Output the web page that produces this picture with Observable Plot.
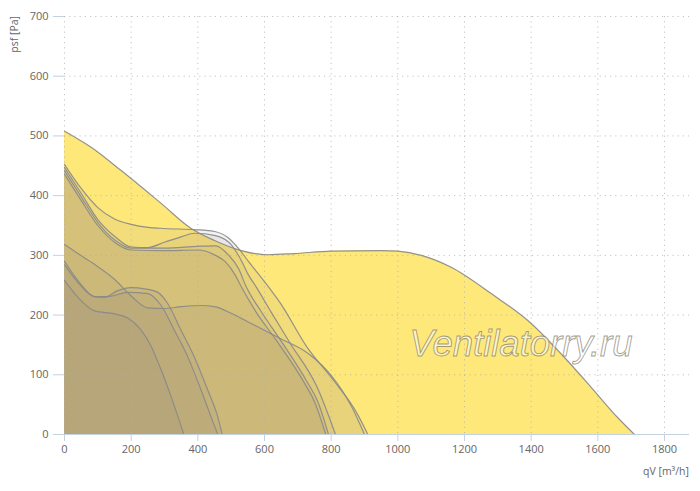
<!DOCTYPE html>
<html>
<head>
<meta charset="utf-8">
<script src="https://cdn.jsdelivr.net/npm/d3@7"></script>
<script src="https://cdn.jsdelivr.net/npm/@observablehq/plot@0.6"></script>
<style>
  html, body { margin: 0; padding: 0; background: #fff; }
  #wrap { position: relative; width: 700px; height: 491px; }
</style>
</head>
<body>
<div id="wrap"></div>
<script>
// ---- data (qV [m³/h], psf [Pa]) ----
const curveA = [[0,508],[80,481],[170,442],[290,387],[380,345],[450,325],[530,308],[610,301],[690,303],[800,307],[950,308],[1000,307],[1070,300],[1160,280],[1280,236],[1400,186],[1500,129],[1580,79],[1660,28],[1710,0]];
const curveB1 = [[0,452],[50,412],[100,380],[150,361],[200,352],[250,347],[300,345],[390,343],[450,340],[490,330],[523,311],[553,289],[593,261],[650,218],[728,146],[808,90],[878,35],[910,0]];
const curveB2 = [[0,447],[50,404],[100,360],[150,332],[200,314],[250,313],[300,322],[350,331],[390,337],[453,333],[503,316],[528,294],[553,266],[573,249],[620,205],[678,152],[758,79],[813,0]];
const curveB3 = [[0,442],[50,398],[100,355],[150,326],[200,312],[300,312],[400,315],[453,316],[493,300],[523,277],[543,250],[590,206],[648,158],[728,88],[760,55],[792,0]];
const curveB4 = [[0,436],[50,392],[100,350],[150,322],[200,309],[300,308],[400,309],[453,300],[483,289],[513,266],[528,250],[575,205],[635,158],[720,86],[750,55],[784,0]];
const curveC = [[0,318],[40,303],[90,285],[150,260],[200,232],[250,212],[300,211],[350,214],[410,216],[450,214],[500,203],[560,186],[650,160],[730,136],[800,99],[860,48],[900,0]];
const curveD1 = [[0,290],[40,258],[90,231],[120,230],[160,241],[200,246],[240,244],[280,238],[310,219],[350,174],[390,129],[430,74],[460,29],[473,0]];
const curveD2 = [[0,284],[40,255],[90,231],[130,231],[190,238],[250,236],[290,216],[330,174],[370,130],[410,74],[440,29],[460,0]];
const curveD3 = [[0,258],[40,230],[90,207],[150,202],[190,195],[228,176],[258,150],[290,108],[320,63],[358,0]];

const xTicks = [0,200,400,600,800,1000,1200,1400,1600,1800];
const yTicks = [0,100,200,300,400,500,600,700];
const xLabel = "qV [m³/h]";
const yLabel = "psf [Pa]";
const watermark = "Ventilatorry.ru";

// ---- build tables ----
const inner = {B1: curveB1, B2: curveB2, B3: curveB3, B4: curveB4, C: curveC, D1: curveD1, D2: curveD2, D3: curveD3};
const rowsA = curveA.map(([q, p]) => ({id: "A", q, p}));
const rowsInner = Object.entries(inner).flatMap(([id, pts]) => pts.map(([q, p]) => ({id, q, p})));
const rowsAll = rowsA.concat(rowsInner);

const curve = "monotone-x";
const fmt = d => String(d);
const chart = Plot.plot({
  width: 700,
  height: 491,
  marginLeft: 64,
  marginRight: 11,
  marginTop: 16,
  marginBottom: 57,
  style: {fontFamily: "'Open Sans', sans-serif", fontSize: "11px", background: "#fff"},
  x: {domain: [0, 1875], label: null},
  y: {domain: [0, 700], label: null},
  marks: [
    Plot.area(rowsA, {x1: "q", y1: 0, y2: "p", fill: "#FFE87A", curve}),
    Plot.area(rowsInner, {x1: "q", y1: 0, y2: "p", z: "id", fill: "#76727a", fillOpacity: 0.09, curve}),
    Plot.gridX({ticks: xTicks, stroke: "#b0b0b0", strokeOpacity: 0.75, strokeDasharray: "1.2,4"}),
    Plot.gridY({ticks: yTicks.slice(1), stroke: "#b0b0b0", strokeOpacity: 0.75, strokeDasharray: "1.2,4"}),
    Plot.line(rowsAll, {x: "q", y: "p", z: "id", stroke: "#888", strokeOpacity: 0.9, strokeWidth: 1.2, curve}),
    Plot.ruleY([0], {stroke: "#c3d1e1", strokeWidth: 1.2}),
    Plot.axisX({ticks: xTicks, tickFormat: fmt, tickSize: 7, tickPadding: 4, stroke: "#c3d1e1", fill: "#666", label: null}),
    Plot.axisY({ticks: yTicks, tickFormat: fmt, tickSize: 11, tickPadding: 5, stroke: "#c3d1e1", fill: "#666", label: null})
  ]
});

document.getElementById("wrap").appendChild(chart);
const svg = d3.select(chart);

// axis titles
svg.append("text")
  .attr("transform", "translate(18,16) rotate(-90)")
  .attr("text-anchor", "end")
  .attr("fill", "#666")
  .style("font-size", "10.5px")
  .text(yLabel);
svg.append("text")
  .attr("x", 689).attr("y", 475)
  .attr("text-anchor", "end")
  .attr("fill", "#666")
  .style("font-size", "10.5px")
  .text(xLabel);

// watermark
svg.append("text")
  .attr("x", 521).attr("y", 356)
  .attr("text-anchor", "middle")
  .attr("fill", "rgba(255,255,255,0.55)")
  .attr("stroke", "rgba(130,125,110,0.75)")
  .attr("stroke-width", 0.9)
  .style("font-family", "'Liberation Sans', Arial, sans-serif")
  .style("font-style", "italic")
  .style("font-size", "36.5px")
  .text(watermark);
</script>
</body>
</html>
